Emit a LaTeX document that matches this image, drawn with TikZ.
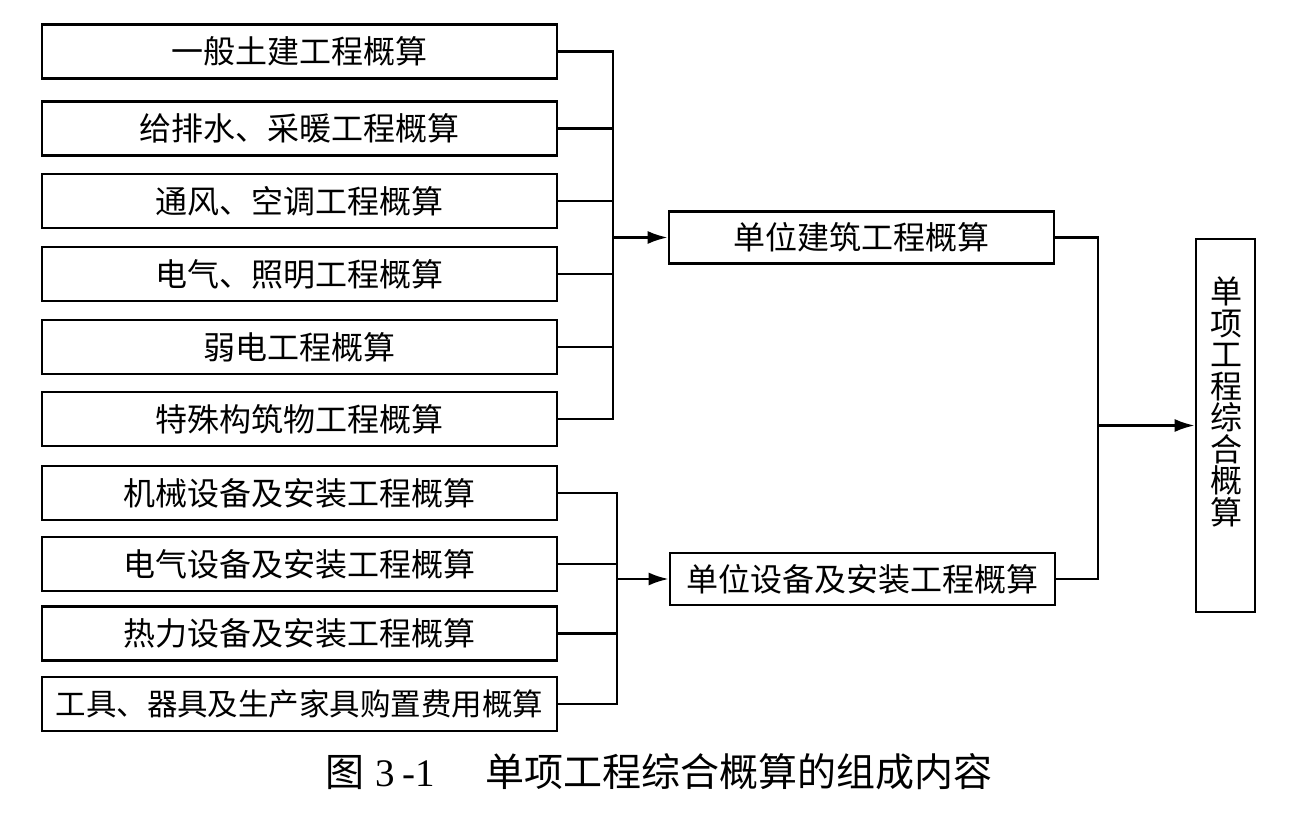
\documentclass[tikz,border=0pt]{standalone}
\usepackage{fontspec}
\setmainfont{Liberation Serif}
\newfontfamily\cjk{Noto Sans CJK SC}
\usetikzlibrary{arrows.meta}
\begin{document}
\begin{tikzpicture}[x=1pt,y=-1pt,
  box/.style={draw, line width=2.6pt, rectangle, inner sep=0pt, font=\cjk\fontsize{32}{38}\selectfont},
  leftbox/.style={box, minimum width=515pt, minimum height=54pt},
  midbox/.style={box, minimum width=385pt, minimum height=52pt},
  line/.style={line width=2.6pt, line join=miter},
  arr/.style={line width=2.6pt, -{Latex[length=20pt,width=13pt]}}]
\useasboundingbox (0,0) rectangle (1310,837);
\fill[white] (0,0) rectangle (1310,837);
% left boxes
\node[leftbox] (b1) at (299.5,51.5) {一般土建工程概算};
\node[leftbox] (b2) at (299.5,128.5) {给排水、采暖工程概算};
\node[leftbox] (b3) at (299.5,201) {通风、空调工程概算};
\node[leftbox] (b4) at (299.5,274) {电气、照明工程概算};
\node[leftbox] (b5) at (299.5,347) {弱电工程概算};
\node[leftbox] (b6) at (299.5,419) {特殊构筑物工程概算};
\node[leftbox] (b7) at (299.5,493) {机械设备及安装工程概算};
\node[leftbox] (b8) at (299.5,564) {电气设备及安装工程概算};
\node[leftbox] (b9) at (299.5,633.5) {热力设备及安装工程概算};
\node[leftbox, font=\cjk\fontsize{30.5}{36}\selectfont] (b10) at (299.5,704) {工具、器具及生产家具购置费用概算};
% middle boxes
\node[midbox] (M1) at (861.5,237.5) {单位建筑工程概算};
\node[midbox] (M2) at (862.5,579) {单位设备及安装工程概算};
% right box
\node[box, minimum width=59pt, minimum height=373pt] (R) at (1225.5,425.5) {};
\node[font=\cjk\fontsize{32}{31.5}\selectfont, align=center, inner sep=0pt] (Rt) at (1226,402) {单\\项\\工\\程\\综\\合\\概\\算};
% brackets
\coordinate (UB) at (613,240);
\coordinate (LB) at (617,579);
\coordinate (RB) at (1098,429);
\draw[line] (b1.east) -- (b1.east -| UB) -- (b6.east -| UB) -- (b6.east);
\foreach \n in {b2,b3,b4,b5} \draw[line] (\n.east) -- (\n.east -| UB);
\draw[arr] (UB |- M1) -- (M1.west);
\draw[line] (b7.east) -- (b7.east -| LB) -- (b10.east -| LB) -- (b10.east);
\foreach \n in {b8,b9} \draw[line] (\n.east) -- (\n.east -| LB);
\draw[arr] (LB |- M2) -- (M2.west);
\draw[line] (M1.east) -- (M1.east -| RB) -- (M2.east -| RB) -- (M2.east);
\draw[arr] (RB |- R) -- (R.west);
% caption
\node[anchor=west, inner sep=0pt, font=\fontsize{39}{44}\selectfont] (cap) at (325,772) {{\cjk 图}\hspace{11pt}3\hspace{8pt}-1\hspace{50pt}{\cjk 单项工程综合概算的组成内容}};
\end{tikzpicture}
\end{document}
